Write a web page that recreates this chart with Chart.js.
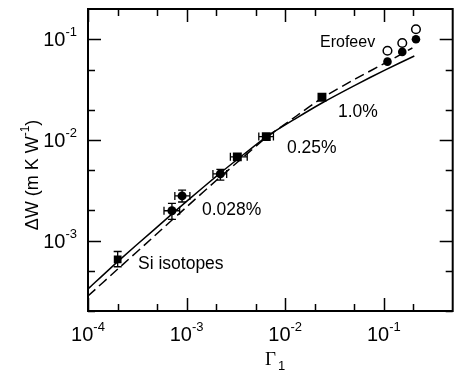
<!DOCTYPE html>
<html><head><meta charset="utf-8">
<script src="https://cdn.jsdelivr.net/npm/chart.js@4/dist/chart.umd.min.js"></script>
<style>html,body{margin:0;padding:0;background:#fff;overflow:hidden}#wrap{width:459px;height:372px;position:relative}</style>
</head><body><div id="wrap"><canvas id="c" width="459" height="372"></canvas></div>
<script>
// ---- axis ticks ----
const xMajorTicks = [1e-4, 1e-3, 1e-2, 1e-1];
const xMajorExp = ['-4', '-3', '-2', '-1'];
const xMinorTicks = [2e-4, 5e-4, 2e-3, 5e-3, 2e-2, 5e-2, 2e-1];
const yMajorTicks = [1e-3, 1e-2, 1e-1];
const yMajorExp = ['-3', '-2', '-1'];
const yMinorTicks = [2e-4, 5e-4, 2e-3, 5e-3, 2e-2, 5e-2];

// ---- model curves ----
const solidX = [1e-4, 2.04e-4, 4.66e-4, 1.02e-3, 2.17e-3, 3.27e-3, 6.38e-3, 1.30e-2, 2.36e-2, 5.15e-2, 0.1026, 0.204];
const solidY = [3.31e-4, 6.3e-4, 1.28e-3, 2.5e-3, 4.65e-3, 6.4e-3, 1.07e-2, 1.65e-2, 2.33e-2, 3.51e-2, 4.95e-2, 6.82e-2];
const dashX = [1e-4, 2.04e-4, 4.66e-4, 1.02e-3, 2.17e-3, 3.27e-3, 6.38e-3, 1.30e-2, 2.36e-2, 5.15e-2, 0.1074, 0.195];
const dashY = [2.82e-4, 5.3e-4, 1.1e-3, 2.2e-3, 4.25e-3, 6.0e-3, 1.05e-2, 1.73e-2, 2.61e-2, 4.04e-2, 5.94e-2, 8.2e-2];

// ---- Si isotopes (square) ----
const siX = [2e-4];
const siY = [6.5e-4];
const siYLo = [5.5e-4];
const siYHi = [7.8e-4];

// ---- 0.028% (filled circles) ----
const c028X = [7.1e-4, 9.0e-4, 2.2e-3];
const c028Y = [1.98e-3, 2.78e-3, 4.6e-3];
const c028XLo = [5.9e-4, 7.6e-4, 1.85e-3];
const c028XHi = [8.5e-4, 1.08e-3, 2.55e-3];
const c028YLo = [1.63e-3, 2.42e-3, 4.0e-3];
const c028YHi = [2.35e-3, 3.17e-3, 5.1e-3];

// ---- 0.25% and 1.0% (squares) ----
const sqX = [3.27e-3, 6.43e-3, 2.36e-2];
const sqY = [6.8e-3, 1.08e-2, 2.66e-2];
const sqXLo = [2.78e-3, 5.4e-3, 2.36e-2];
const sqXHi = [4.12e-3, 7.6e-3, 2.36e-2];

// ---- Erofeev ----
const eroX = [0.109, 0.154, 0.212];
const eroOpenY = [0.077, 0.092, 0.126];
const eroFilledY = [0.060, 0.075, 0.100];

// ---- annotation labels ----
const labels = ['Erofeev', '1.0%', '0.25%', '0.028%', 'Si isotopes'];

const pts = (xs, ys) => xs.map((x, i) => ({x, y: ys[i]}));

const errorBars = [
  {x: siX, y: siY, yLo: siYLo, yHi: siYHi},
  {x: c028X, y: c028Y, xLo: c028XLo, xHi: c028XHi, yLo: c028YLo, yHi: c028YHi},
  {x: sqX, y: sqY, xLo: sqXLo, xHi: sqXHi}
];

const SANS = '"Liberation Sans", Arial, Helvetica, sans-serif';

const errPlugin = {
  id: 'err',
  afterDatasetsDraw(chart) {
    const {ctx, scales: {x: sx, y: sy}} = chart;
    ctx.save();
    ctx.strokeStyle = '#000';
    ctx.lineWidth = 1.3;
    const cap = 4;
    errorBars.forEach(e => {
      e.x.forEach((xv, i) => {
        const px = sx.getPixelForValue(xv), py = sy.getPixelForValue(e.y[i]);
        ctx.beginPath();
        if (e.yLo) {
          const a = sy.getPixelForValue(e.yLo[i]), b = sy.getPixelForValue(e.yHi[i]);
          ctx.moveTo(px, a); ctx.lineTo(px, b);
          ctx.moveTo(px - cap, a); ctx.lineTo(px + cap, a);
          ctx.moveTo(px - cap, b); ctx.lineTo(px + cap, b);
        }
        if (e.xLo && e.xLo[i] !== e.xHi[i]) {
          const a = sx.getPixelForValue(e.xLo[i]), b = sx.getPixelForValue(e.xHi[i]);
          ctx.moveTo(a, py); ctx.lineTo(b, py);
          ctx.moveTo(a, py - cap); ctx.lineTo(a, py + cap);
          ctx.moveTo(b, py - cap); ctx.lineTo(b, py + cap);
        }
        ctx.stroke();
      });
    });
    ctx.restore();
  }
};

function drawPow(ctx, exp, x, y, align) {
  ctx.font = '20px ' + SANS;
  const wb = ctx.measureText('10').width;
  ctx.font = '13px ' + SANS;
  const we = ctx.measureText(exp).width;
  const w = wb + we;
  let left = align === 'center' ? x - w / 2 : x - w;
  ctx.textAlign = 'left';
  ctx.textBaseline = 'alphabetic';
  ctx.font = '20px ' + SANS;
  ctx.fillText('10', left, y);
  ctx.font = '13px ' + SANS;
  ctx.fillText(exp, left + wb, y - 10);
}

const axesPlugin = {
  id: 'axesbox',
  afterDraw(chart) {
    const {ctx, chartArea: a, scales: {x: sx, y: sy}} = chart;
    ctx.save();
    ctx.strokeStyle = '#000';
    ctx.fillStyle = '#000';
    ctx.lineWidth = 2;
    ctx.strokeRect(a.left, a.top, a.right - a.left, a.bottom - a.top);
    ctx.lineWidth = 1.5;
    ctx.beginPath();
    const maj = 13, min = 7;
    xMajorTicks.forEach(v => {
      const p = Math.round(sx.getPixelForValue(v)) + 0.5;
      ctx.moveTo(p, a.bottom); ctx.lineTo(p, a.bottom - maj);
      ctx.moveTo(p, a.top); ctx.lineTo(p, a.top + maj);
    });
    xMinorTicks.forEach(v => {
      const p = Math.round(sx.getPixelForValue(v)) + 0.5;
      ctx.moveTo(p, a.bottom); ctx.lineTo(p, a.bottom - min);
      ctx.moveTo(p, a.top); ctx.lineTo(p, a.top + min);
    });
    yMajorTicks.forEach(v => {
      const p = Math.round(sy.getPixelForValue(v)) + 0.5;
      ctx.moveTo(a.left, p); ctx.lineTo(a.left + maj, p);
      ctx.moveTo(a.right, p); ctx.lineTo(a.right - maj, p);
    });
    yMinorTicks.forEach(v => {
      const p = Math.round(sy.getPixelForValue(v)) + 0.5;
      ctx.moveTo(a.left, p); ctx.lineTo(a.left + min, p);
      ctx.moveTo(a.right, p); ctx.lineTo(a.right - min, p);
    });
    ctx.stroke();

    // tick labels
    xMajorTicks.forEach((v, i) => drawPow(ctx, xMajorExp[i], sx.getPixelForValue(v), 341, 'center'));
    yMajorTicks.forEach((v, i) => drawPow(ctx, yMajorExp[i], 77, sy.getPixelForValue(v) + 7, 'right'));

    // axis titles
    ctx.textAlign = 'left';
    ctx.font = '19px "Liberation Serif", "Times New Roman", serif';
    ctx.fillText('Γ', 265, 365);
    ctx.font = '13px ' + SANS;
    ctx.fillText('1', 278, 370);

    ctx.save();
    ctx.translate(31, 175);
    ctx.rotate(-Math.PI / 2);
    ctx.font = '18px ' + SANS;
    const t1 = 'ΔW (m K W', t2 = '-1', t3 = ')';
    const w1 = ctx.measureText(t1).width;
    ctx.font = '12px ' + SANS;
    const w2 = ctx.measureText(t2).width;
    ctx.font = '18px ' + SANS;
    const w3 = ctx.measureText(t3).width;
    const W = w1 + w2 + w3;
    let s = -W / 2;
    ctx.fillText(t1, s, 7);
    ctx.font = '12px ' + SANS;
    ctx.fillText(t2, s + w1, -2);
    ctx.font = '18px ' + SANS;
    ctx.fillText(t3, s + w1 + w2, 7);
    ctx.restore();

    // annotations
    ctx.font = '16px ' + SANS;
    ctx.fillText(labels[0], 320, 47);
    ctx.font = '17.5px ' + SANS;
    ctx.fillText(labels[1], 338, 117);
    ctx.fillText(labels[2], 287, 153);
    ctx.fillText(labels[3], 202, 215);
    ctx.fillText(labels[4], 138, 269);
    ctx.restore();
  }
};

new Chart(document.getElementById('c'), {
  type: 'scatter',
  data: {
    datasets: [
      {type: 'line', data: pts(solidX, solidY), borderColor: '#000', borderWidth: 1.5, pointRadius: 0, tension: 0.2, fill: false},
      {type: 'line', data: pts(dashX, dashY), borderColor: '#000', borderWidth: 1.5, borderDash: [10, 5], pointRadius: 0, tension: 0.2, fill: false},
      {data: pts(siX, siY), pointStyle: 'rect', pointRadius: 5.5, backgroundColor: '#000', borderColor: '#000', borderWidth: 0},
      {data: pts(c028X, c028Y), pointStyle: 'circle', pointRadius: 4.5, backgroundColor: '#000', borderColor: '#000', borderWidth: 0},
      {data: pts(sqX, sqY), pointStyle: 'rect', pointRadius: 6.3, backgroundColor: '#000', borderColor: '#000', borderWidth: 0},
      {data: pts(eroX, eroFilledY), pointStyle: 'circle', pointRadius: 4.3, backgroundColor: '#000', borderColor: '#000', borderWidth: 0},
      {data: pts(eroX, eroOpenY), pointStyle: 'circle', pointRadius: 4.3, backgroundColor: '#fff', borderColor: '#000', borderWidth: 1.5}
    ]
  },
  options: {
    responsive: false,
    animation: false,
    layout: {padding: {left: 88, top: 9, right: 0, bottom: 61}},
    scales: {
      x: {type: 'logarithmic', min: 1e-4, max: 0.5, display: false},
      y: {type: 'logarithmic', min: 2e-4, max: 0.2, display: false}
    },
    plugins: {legend: {display: false}, tooltip: {enabled: false}}
  },
  plugins: [errPlugin, axesPlugin]
});
</script>
</body></html>
